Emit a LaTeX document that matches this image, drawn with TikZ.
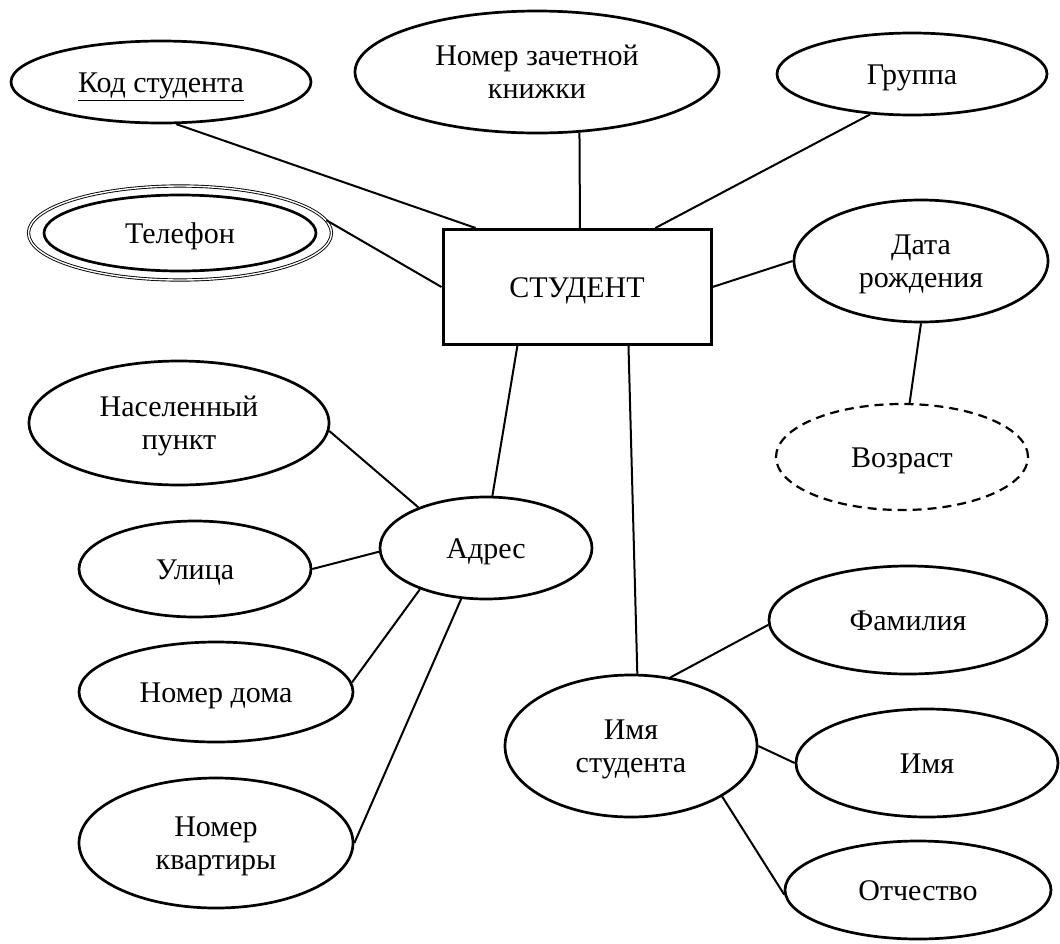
\documentclass[tikz,border=0pt]{standalone}
\usepackage{fontspec}
\setmainfont{Liberation Serif}
\usetikzlibrary{shapes.geometric,calc}
\begin{document}
\begin{tikzpicture}[x=1pt,y=-1pt,
  lbl/.style={font=\fontsize{30}{33}\selectfont,align=center,inner sep=0pt},
  one/.style={text height=20pt,text depth=0pt},
  two/.style={text height=53pt,text depth=0pt},
  attr/.style={lbl,ellipse,draw,line width=2.7pt},
  weak/.style={attr,dashed,dash pattern=on 9pt off 6pt,line width=2.2pt},
  multi/.style={ellipse,draw,double,double distance=1.4pt,line width=0.9pt,inner sep=0pt},
  ent/.style={lbl,rectangle,draw,line width=3pt},
  link/.style={line width=2pt}]
\useasboundingbox (0,0) rectangle (1060,943);

% entity
\node[ent,one,minimum width=268pt,minimum height=115pt] (stud) at (577,287) {СТУДЕНТ};

% attributes of the student
\node[attr,one,minimum width=300pt,minimum height=82pt] (kod) at (161,82) {\underline{Код студента}};
\node[attr,two,minimum width=364pt,minimum height=122pt] (zach) at (537,72) {Номер зачетной\\книжки};
\node[attr,one,minimum width=270pt,minimum height=82pt] (grp) at (912,74) {Группа};
\node[multi,minimum width=303pt,minimum height=94pt] (tel) at (180,233) {};
\node[attr,one,minimum width=272pt,minimum height=76pt] (telin) at (180,233) {Телефон};
\node[attr,two,minimum width=254pt,minimum height=122pt] (dr) at (921,261) {Дата\\рождения};
\node[weak,one,minimum width=252pt,minimum height=106pt] (vz) at (902,457) {Возраст};

% address and its parts
\node[attr,one,minimum width=212pt,minimum height=102pt] (adr) at (486,548) {Адрес};
\node[attr,two,minimum width=300pt,minimum height=124pt] (nas) at (179,423) {Населенный\\пункт};
\node[attr,one,minimum width=232pt,minimum height=96pt] (ul) at (195,569) {Улица};
\node[attr,one,minimum width=274pt,minimum height=100pt] (nd) at (216,692) {Номер дома};
\node[attr,two,minimum width=274pt,minimum height=130pt] (nk) at (216,843) {Номер\\квартиры};

% name and its parts
\node[attr,two,minimum width=252pt,minimum height=142pt] (ims) at (631,746) {Имя\\студента};
\node[attr,one,minimum width=278pt,minimum height=108pt] (fam) at (908,620) {Фамилия};
\node[attr,one,minimum width=262pt,minimum height=108pt] (imya) at (927,763) {Имя};
\node[attr,one,minimum width=266pt,minimum height=98pt] (otch) at (918,890) {Отчество};

% connectors
\draw[link] (kod.290) -- ($(stud.north west)!0.126!(stud.north east)$);
\draw[link] (zach.305) -- ($(stud.north west)!0.511!(stud.north east)$);
\draw[link] (grp.224) -- ($(stud.north west)!0.789!(stud.north east)$);
\draw[link] (tel.5) -- (stud.west);
\draw[link] (stud.east) -- (dr.west);
\draw[link] (dr.south) -- (vz.82);
\draw[link] ($(stud.south west)!0.28!(stud.south east)$) -- (adr.83);
\draw[link] ($(stud.south west)!0.69!(stud.south east)$) -- (ims.85);
\draw[link] (nas.357) -- (adr.149);
\draw[link] (ul.east) -- (adr.182);
\draw[link] (nd.4) -- (adr.212);
\draw[link] (nk.east) -- (adr.244);
\draw[link] (ims.60) -- (fam.182);
\draw[link] (ims.east) -- (imya.west);
\draw[link] (ims.331) -- (otch.182);
\end{tikzpicture}
\end{document}
